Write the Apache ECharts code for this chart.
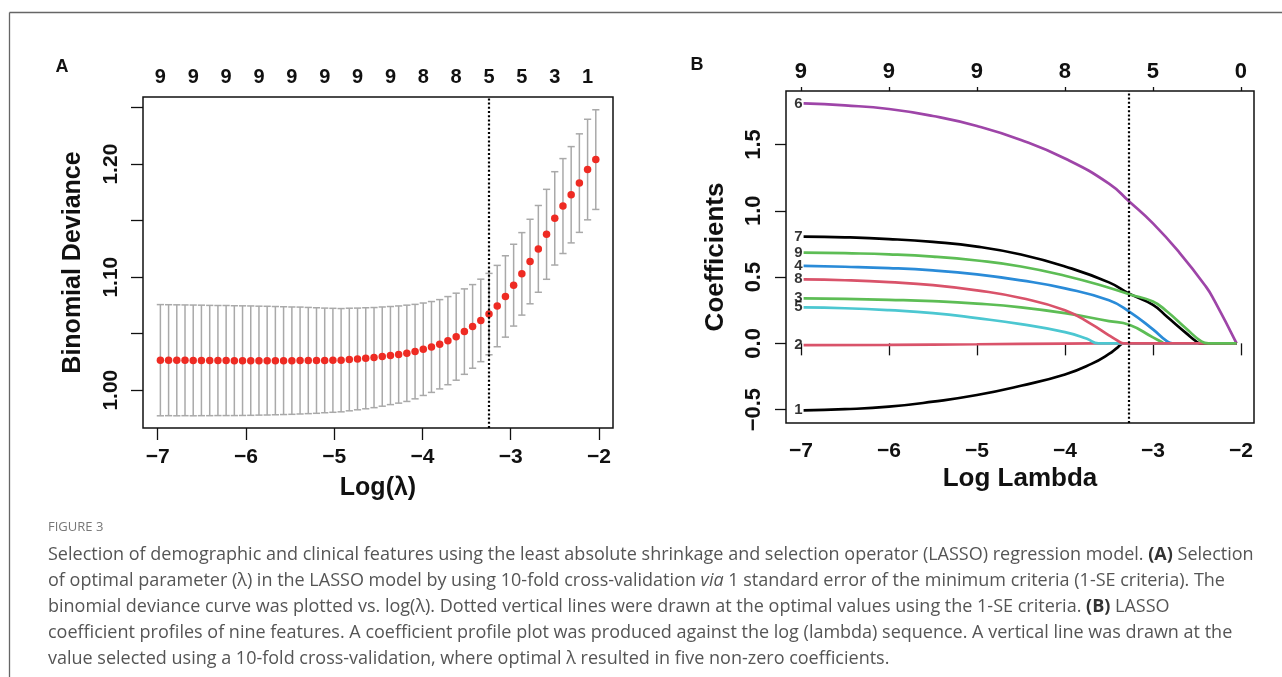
<!DOCTYPE html>
<html>
<head>
<meta charset="utf-8">
<script src="https://cdn.jsdelivr.net/npm/echarts@6.0.0/dist/echarts.min.js"></script>
<style>
html, body { margin: 0; padding: 0; background: #fff; }
#chart { width: 1282px; height: 677px; }
</style>
</head>
<body>
<div id="chart"></div>
<script>
// panel A: cross-validation curve
const logLambdaA = [
  -6.970, -6.877, -6.784, -6.691, -6.598, -6.505, -6.411, -6.318, -6.225, -6.132,
  -6.039, -5.946, -5.853, -5.760, -5.667, -5.574, -5.480, -5.387, -5.294, -5.201,
  -5.108, -5.015, -4.922, -4.829, -4.736, -4.643, -4.549, -4.456, -4.363, -4.270,
  -4.177, -4.084, -3.991, -3.898, -3.805, -3.712, -3.618, -3.525, -3.432, -3.339,
  -3.246, -3.153, -3.060, -2.967, -2.874, -2.781, -2.687, -2.594, -2.501, -2.408,
  -2.315, -2.222, -2.129, -2.036
]
const cvMean = [
  1.0265, 1.0265, 1.0264, 1.0264, 1.0263, 1.0263, 1.0262, 1.0262, 1.0262, 1.0261,
  1.0261, 1.0261, 1.0261, 1.0261, 1.0261, 1.0261, 1.0261, 1.0262, 1.0262, 1.0262,
  1.0263, 1.0264, 1.0265, 1.0271, 1.0276, 1.0282, 1.0288, 1.0297, 1.0306, 1.0315,
  1.0326, 1.0341, 1.0362, 1.0382, 1.0406, 1.0438, 1.0473, 1.0518, 1.0564, 1.0617,
  1.0673, 1.0744, 1.0829, 1.0929, 1.1029, 1.1138, 1.1250, 1.1379, 1.1520, 1.1629,
  1.1729, 1.1832, 1.1952, 1.2040
]
const cvSd = [
  0.0492, 0.0491, 0.0491, 0.0490, 0.0490, 0.0489, 0.0488, 0.0487, 0.0487, 0.0486,
  0.0485, 0.0484, 0.0482, 0.0481, 0.0479, 0.0477, 0.0475, 0.0473, 0.0470, 0.0467,
  0.0463, 0.0460, 0.0457, 0.0454, 0.0450, 0.0447, 0.0443, 0.0439, 0.0434, 0.0430,
  0.0426, 0.0418, 0.0409, 0.0402, 0.0395, 0.0390, 0.0385, 0.0378, 0.0370, 0.0365,
  0.0360, 0.0360, 0.0360, 0.0362, 0.0365, 0.0374, 0.0384, 0.0398, 0.0413, 0.0420,
  0.0426, 0.0436, 0.0445, 0.0441
]
const nzeroA = [9, 9, 9, 9, 9, 9, 9, 9, 8, 8, 5, 5, 3, 1]
const lambdaSeA = -3.246
const xTicks = [-7, -6, -5, -4, -3, -2]
const yTicksA = [1.00, 1.05, 1.10, 1.15, 1.20, 1.25]
const yLabelsA = [1.00, 1.10, 1.20]

// panel B: coefficient paths
const coef1 = [[-6.97, -0.505], [-6.5, -0.497], [-6, -0.478], [-5.5, -0.44], [-5, -0.39], [-4.5, -0.32], [-4, -0.235], [-3.7, -0.155], [-3.5, -0.08], [-3.4, -0.03], [-3.33, 0], [-2.05, 0]]
const coef2 = [[-6.97, -0.013], [-6, -0.011], [-5, -0.007], [-4, -0.002], [-3.33, 0], [-2.05, 0]]
const coef3 = [[-6.97, 0.34], [-6.5, 0.335], [-6, 0.328], [-5.5, 0.318], [-5, 0.3], [-4.5, 0.272], [-4, 0.228], [-3.5, 0.168], [-3.27, 0.14], [-3, 0.045], [-2.9, 0.01], [-2.87, 0], [-2.05, 0]]
const coef4 = [[-6.97, 0.584], [-6.5, 0.578], [-6, 0.568], [-5.5, 0.55], [-5, 0.52], [-4.5, 0.475], [-4, 0.415], [-3.5, 0.325], [-3.27, 0.24], [-3, 0.105], [-2.85, 0.02], [-2.78, 0], [-2.05, 0]]
const coef5 = [[-6.97, 0.272], [-6.5, 0.265], [-6, 0.25], [-5.5, 0.228], [-5, 0.19], [-4.5, 0.145], [-4, 0.085], [-3.75, 0.035], [-3.62, 0], [-2.05, 0]]
const coef6 = [[-6.97, 1.81], [-6.5, 1.795], [-6, 1.768], [-5.5, 1.715], [-5, 1.64], [-4.5, 1.535], [-4, 1.395], [-3.5, 1.205], [-3.27, 1.07], [-3, 0.905], [-2.7, 0.685], [-2.4, 0.43], [-2.3, 0.32], [-2.05, 0]]
const coef7 = [[-6.97, 0.805], [-6.5, 0.8], [-6, 0.787], [-5.5, 0.765], [-5, 0.73], [-4.5, 0.67], [-4, 0.58], [-3.5, 0.46], [-3.27, 0.375], [-3, 0.29], [-2.84, 0.2], [-2.62, 0.075], [-2.5, 0.01], [-2.47, 0], [-2.05, 0]]
const coef8 = [[-6.97, 0.483], [-6.5, 0.476], [-6, 0.462], [-5.5, 0.44], [-5, 0.4], [-4.5, 0.342], [-4, 0.25], [-3.7, 0.145], [-3.5, 0.06], [-3.4, 0.02], [-3.33, 0], [-2.05, 0]]
const coef9 = [[-6.97, 0.685], [-6.5, 0.68], [-6, 0.672], [-5.5, 0.655], [-5, 0.625], [-4.5, 0.58], [-4, 0.51], [-3.5, 0.42], [-3.27, 0.37], [-3, 0.315], [-2.84, 0.24], [-2.62, 0.11], [-2.45, 0.015], [-2.37, 0], [-2.05, 0]]
const coefNames = ['1', '2', '3', '4', '5', '6', '7', '8', '9']
const coefColors = ['#000000', '#d9536a', '#5dbd55', '#2a8bd8', '#4cc7d1', '#9e45a8', '#000000', '#d9536a', '#5dbd55']
const nzeroB = [9, 9, 9, 8, 5, 0]
const yTicksB = [-0.5, 0, 0.5, 1.0, 1.5]
const lambdaSeB = -3.272

const captionLines = [
  'Selection of demographic and clinical features using the least absolute shrinkage and selection operator (LASSO) regression model. {b|(A)} Selection',
  'of optimal parameter (λ) in the LASSO model by using 10-fold cross-validation {i|via} 1 standard error of the minimum criteria (1-SE criteria). The',
  'binomial deviance curve was plotted vs. log(λ). Dotted vertical lines were drawn at the optimal values using the 1-SE criteria. {b|(B)} LASSO',
  'coefficient profiles of nine features. A coefficient profile plot was produced against the log (lambda) sequence. A vertical line was drawn at the',
  'value selected using a 10-fold cross-validation, where optimal λ resulted in five non-zero coefficients.'
]

const FONT = '"Liberation Sans", Arial, sans-serif'
const CAP_FONT = '"Open Sans", "Noto Sans", sans-serif'
const CAP_SIZE = 18
const minus = v => String(v).replace('-', '\u2212')

const topPosA = logLambdaA.filter((_, i) => i % 4 === 0)
const errA = logLambdaA.map((x, i) => [x, cvMean[i] - cvSd[i], cvMean[i] + cvSd[i]])
const ptsA = logLambdaA.map((x, i) => [x, cvMean[i]])
const coefs = [coef1, coef2, coef3, coef4, coef5, coef6, coef7, coef8, coef9]

const chart = echarts.init(document.getElementById('chart'))

const tickLabel = { fontFamily: FONT, fontWeight: 'bold', fontSize: 21, color: '#111' }
const nameStyle = { fontFamily: FONT, fontWeight: 'bold', fontSize: 25, color: '#111' }
const tickLine = { lineStyle: { color: '#111', width: 1.3 } }
const dotted = {
  silent: true, symbol: 'none', label: { show: false },
  lineStyle: { type: [2, 2.2], color: '#000', width: 2.2 }
}

const option = {
  animation: false,
  backgroundColor: '#fff',
  grid: [
    { left: 143, top: 97, width: 470, height: 331, show: true, borderColor: '#111', borderWidth: 1.5, outerBoundsMode: 'none' },
    { left: 786, top: 91, width: 468, height: 332, show: true, borderColor: '#111', borderWidth: 1.5, outerBoundsMode: 'none' }
  ],
  xAxis: [
    {
      gridIndex: 0, type: 'value', min: -7.167, max: -1.841, position: 'bottom',
      name: 'Log(λ)', nameLocation: 'middle', nameGap: 48, nameTextStyle: nameStyle,
      axisLine: { show: false }, splitLine: { show: false },
      axisTick: { show: true, length: 12, customValues: xTicks, ...tickLine },
      axisLabel: { ...tickLabel, margin: 19, customValues: xTicks, formatter: minus }
    },
    {
      gridIndex: 0, type: 'value', min: -7.167, max: -1.841, position: 'top',
      axisLine: { show: false }, splitLine: { show: false }, axisTick: { show: false },
      axisLabel: {
        fontFamily: FONT, fontWeight: 'bold', fontSize: 20, color: '#111', margin: 10,
        customValues: topPosA,
        formatter: v => nzeroA[topPosA.indexOf(v)]
      }
    },
    {
      gridIndex: 1, type: 'value', min: -7.17, max: -1.852, position: 'bottom',
      name: 'Log Lambda', nameLocation: 'middle', nameGap: 43, nameTextStyle: { ...nameStyle, fontSize: 26 },
      axisLine: { show: false }, splitLine: { show: false },
      axisTick: { show: true, length: 12, customValues: xTicks, ...tickLine },
      axisLabel: { ...tickLabel, margin: 18, customValues: xTicks, formatter: minus }
    },
    {
      gridIndex: 1, type: 'value', min: -7.17, max: -1.852, position: 'top',
      axisLine: { show: false }, splitLine: { show: false },
      axisTick: { show: true, length: 4, customValues: xTicks, ...tickLine },
      axisLabel: {
        fontFamily: FONT, fontWeight: 'bold', fontSize: 22, color: '#111', margin: 8,
        customValues: xTicks,
        formatter: v => nzeroB[xTicks.indexOf(v)]
      }
    }
  ],
  yAxis: [
    {
      gridIndex: 0, type: 'value', min: 0.9665, max: 1.2594,
      name: 'Binomial Deviance', nameLocation: 'middle', nameGap: 57, nameTextStyle: nameStyle,
      axisLine: { show: false }, splitLine: { show: false },
      axisTick: { show: true, length: 12, customValues: yTicksA, ...tickLine },
      axisLabel: { ...tickLabel, rotate: 90, margin: 21, customValues: yLabelsA, formatter: v => v.toFixed(2) }
    },
    {
      gridIndex: 1, type: 'value', min: -0.601, max: 1.904,
      name: 'Coefficients', nameLocation: 'middle', nameGap: 57, nameTextStyle: { ...nameStyle, fontSize: 26 },
      axisLine: { show: false }, splitLine: { show: false },
      axisTick: { show: true, length: 11, customValues: yTicksB, ...tickLine },
      axisLabel: { ...tickLabel, fontSize: 22, rotate: 90, margin: 21, customValues: yTicksB, formatter: v => minus(v.toFixed(1)) }
    }
  ],
  series: [
    {
      type: 'custom', xAxisIndex: 0, yAxisIndex: 0, data: errA,
      encode: { x: 0, y: [1, 2] },
      renderItem (params, api) {
        const lo = api.coord([api.value(0), api.value(1)])
        const hi = api.coord([api.value(0), api.value(2)])
        const w = 3.6
        const st = { stroke: '#a9a9a9', lineWidth: 1.5 }
        return {
          type: 'group',
          children: [
            { type: 'line', shape: { x1: lo[0], y1: lo[1], x2: hi[0], y2: hi[1] }, style: st },
            { type: 'line', shape: { x1: hi[0] - w, y1: hi[1], x2: hi[0] + w, y2: hi[1] }, style: st },
            { type: 'line', shape: { x1: lo[0] - w, y1: lo[1], x2: lo[0] + w, y2: lo[1] }, style: st }
          ]
        }
      },
      z: 2
    },
    {
      type: 'scatter', xAxisIndex: 0, yAxisIndex: 0, data: ptsA,
      symbolSize: 7.5, itemStyle: { color: '#ee2b23', opacity: 1 }, z: 3,
      markLine: { ...dotted, data: [{ xAxis: lambdaSeA }] }
    },
    ...coefs.map((c, i) => ({
      type: 'line', xAxisIndex: 2, yAxisIndex: 1, data: c,
      showSymbol: false, smooth: 0.5,
      lineStyle: { color: coefColors[i], width: 2.7 }, z: 3 + i * 0.01
    })),
    {
      type: 'scatter', xAxisIndex: 2, yAxisIndex: 1,
      data: coefs.map((c, i) => [c[0][0], c[0][1], coefNames[i]]),
      symbolSize: 0,
      label: {
        show: true, position: 'left', distance: 1,
        formatter: p => p.value[2],
        fontFamily: FONT, fontWeight: 'bold', fontSize: 15, color: '#000'
      },
      z: 5,
      markLine: { ...dotted, data: [{ xAxis: lambdaSeB }] }
    }
  ],
  graphic: [
    { type: 'line', shape: { x1: 9.5, y1: 12.5, x2: 1282, y2: 12.5 }, style: { stroke: '#666', lineWidth: 1.3 } },
    { type: 'line', shape: { x1: 9.5, y1: 12.5, x2: 9.5, y2: 677 }, style: { stroke: '#666', lineWidth: 1.3 } },
    { type: 'text', x: 62, y: 67, style: { text: 'A', font: 'bold 18px ' + FONT, fill: '#111', align: 'center', verticalAlign: 'middle' } },
    { type: 'text', x: 697, y: 65, style: { text: 'B', font: 'bold 18px ' + FONT, fill: '#111', align: 'center', verticalAlign: 'middle' } },
    { type: 'text', x: 48, y: 527, style: { text: 'FIGURE 3', font: '13px ' + CAP_FONT, fill: '#777', verticalAlign: 'middle' } },
    ...captionLines.map((t, i) => ({
      type: 'text', x: 48, y: 555 + i * 26,
      style: {
        text: t, fontSize: CAP_SIZE, fontFamily: CAP_FONT, fill: '#555', verticalAlign: 'middle',
        rich: {
          b: { fontSize: CAP_SIZE, fontFamily: CAP_FONT, fontWeight: 'bold', fill: '#333' },
          i: { fontSize: CAP_SIZE, fontFamily: CAP_FONT, fontStyle: 'italic', fill: '#555' }
        }
      }
    }))
  ]
}

chart.setOption(option)
</script>
</body>
</html>
